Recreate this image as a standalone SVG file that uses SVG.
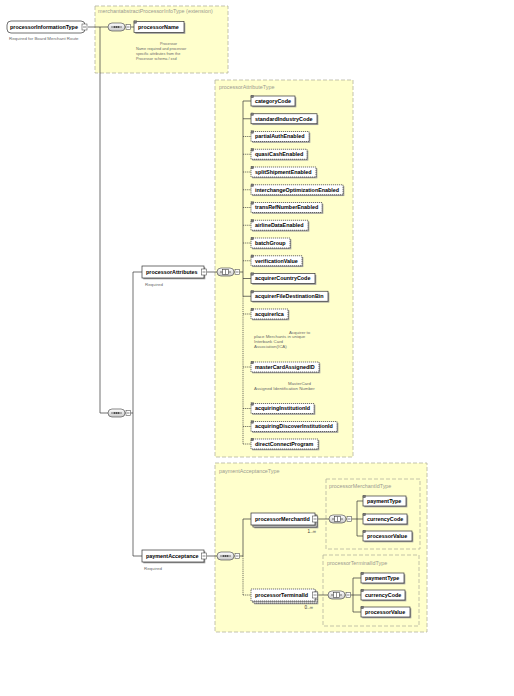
<svg xmlns="http://www.w3.org/2000/svg" xmlns:xlink="http://www.w3.org/1999/xlink" width="514" height="696" viewBox="0 0 514 696">
<style>
.bg{fill:#ffffff}
.grp{fill:#ffffcc;stroke:#b4b4a0;stroke-width:0.8;stroke-dasharray:4 2}
.lab{font-family:"Liberation Sans",Arial,sans-serif;font-size:5.4px;fill:#9a9a90}
.t{font-family:"Liberation Sans",Arial,sans-serif;font-size:5.4px;font-weight:bold;fill:#000}
.ann{font-family:"Liberation Sans",Arial,sans-serif;font-size:4.4px;fill:#6a6a6a}
.ann2{font-family:"Liberation Sans",Arial,sans-serif;font-size:3.8px;fill:#6a6a6a}
.occ{font-family:"Liberation Sans",Arial,sans-serif;font-size:4.6px;fill:#333}
.el{fill:#fff;stroke:#333;stroke-width:0.7}
.opt{fill:#fff;stroke:#333;stroke-width:0.7;stroke-dasharray:1.2 0.8}
.sh{fill:#9c9c9c}
.ic{fill:#777;stroke:#444;stroke-width:0.3}
.ln{stroke:#333;stroke-width:0.7;fill:none}
.dl{stroke:#333;stroke-width:0.7;fill:none;stroke-dasharray:1.2 0.9}
.btn{fill:#fff;stroke:#555;stroke-width:0.6}
.bl{stroke:#333;stroke-width:0.6}
</style>
<defs>
<linearGradient id="cg" x1="0" y1="0" x2="0" y2="1">
<stop offset="0" stop-color="#ffffff"/>
<stop offset="1" stop-color="#c8c8c8"/>
</linearGradient>
<g id="seq">
<line x1="17" y1="0" x2="18" y2="0" class="ln"/>
<rect x="0" y="-4" width="17" height="8" rx="4" fill="url(#cg)" stroke="#555" stroke-width="0.7"/>
<line x1="3" y1="0" x2="14" y2="0" stroke="#222" stroke-width="0.6"/>
<circle cx="6.5" cy="0" r="0.8" fill="#222"/>
<circle cx="8.5" cy="0" r="0.8" fill="#222"/>
<circle cx="10.5" cy="0" r="0.8" fill="#222"/>
<rect x="18" y="-2.5" width="4.5" height="5" class="btn"/>
<line x1="19" y1="0" x2="21.5" y2="0" class="bl"/>
</g>
<g id="all">
<line x1="17" y1="0" x2="18" y2="0" class="ln"/>
<rect x="0" y="-4" width="17" height="8" rx="4" fill="url(#cg)" stroke="#555" stroke-width="0.7"/>
<line x1="3" y1="0" x2="14" y2="0" stroke="#222" stroke-width="0.6"/>
<rect x="5.5" y="-2.3" width="6" height="4.6" fill="#fff" stroke="#222" stroke-width="0.5"/>
<line x1="8.5" y1="-2.3" x2="8.5" y2="2.3" stroke="#222" stroke-width="0.5"/>
<rect x="18" y="-2.5" width="4.5" height="5" class="btn"/>
<line x1="19" y1="0" x2="21.5" y2="0" class="bl"/>
</g>
<g id="btn">
<rect x="0" y="0" width="5" height="6" class="btn"/>
<line x1="1" y1="3" x2="4" y2="3" class="bl"/>
</g>
</defs>
<rect class="bg" x="0" y="0" width="514" height="696"/>

<!-- type containers -->
<g id="type-merchantabstract">
<rect class="grp" x="95" y="6" width="133" height="67"/>
<text class="lab" x="98" y="13">merchantabstractProcessorInfoType (extension)</text>
</g>
<g id="type-processorAttributeType">
<rect class="grp" x="215" y="80" width="138" height="377"/>
<text class="lab" x="219" y="88.5">processorAttributeType</text>
</g>
<g id="type-paymentAcceptanceType">
<rect class="grp" x="215" y="463" width="212" height="169"/>
<text class="lab" x="219" y="472.5">paymentAcceptanceType</text>
</g>
<g id="type-processorMerchantIdType">
<rect class="grp" x="326" y="479" width="94" height="70"/>
<text class="lab" x="329" y="488">processorMerchantIdType</text>
</g>
<g id="type-processorTerminalIdType">
<rect class="grp" x="323" y="555" width="96" height="71"/>
<text class="lab" x="327" y="564.5">processorTerminalIdType</text>
</g>

<!-- connectors -->
<g id="connectors">
<line class="ln" x1="88" y1="27" x2="108" y2="27"/>
<line class="ln" x1="100" y1="27" x2="100" y2="413"/>
<line class="ln" x1="100" y1="413" x2="108" y2="413"/>
<line class="ln" x1="130.5" y1="27" x2="134" y2="27"/>
<line class="ln" x1="130.5" y1="413" x2="133" y2="413"/>
<line class="ln" x1="133" y1="272" x2="133" y2="556"/>
<line class="ln" x1="133" y1="272" x2="142" y2="272"/>
<line class="ln" x1="133" y1="556" x2="142" y2="556"/>
<line class="ln" x1="207" y1="272" x2="217" y2="272"/>
<line class="ln" x1="239.5" y1="272" x2="243" y2="272"/>
<line class="ln" x1="243" y1="101" x2="243" y2="296.25"/>
<line class="dl" x1="243" y1="296.25" x2="243" y2="444"/>
<line class="ln" x1="243" y1="101" x2="251" y2="101"/>
<line class="ln" x1="243" y1="118.75" x2="251" y2="118.75"/>
<line class="dl" x1="243" y1="136.5" x2="251" y2="136.5"/>
<line class="dl" x1="243" y1="154.25" x2="251" y2="154.25"/>
<line class="dl" x1="243" y1="172" x2="251" y2="172"/>
<line class="dl" x1="243" y1="189.75" x2="251" y2="189.75"/>
<line class="dl" x1="243" y1="207.5" x2="251" y2="207.5"/>
<line class="dl" x1="243" y1="225.25" x2="251" y2="225.25"/>
<line class="dl" x1="243" y1="243" x2="251" y2="243"/>
<line class="dl" x1="243" y1="260.75" x2="251" y2="260.75"/>
<line class="ln" x1="243" y1="278.5" x2="251" y2="278.5"/>
<line class="ln" x1="243" y1="296.25" x2="251" y2="296.25"/>
<line class="dl" x1="243" y1="314" x2="251" y2="314"/>
<line class="dl" x1="243" y1="367" x2="251" y2="367"/>
<line class="dl" x1="243" y1="408.5" x2="251" y2="408.5"/>
<line class="dl" x1="243" y1="426.5" x2="251" y2="426.5"/>
<line class="dl" x1="243" y1="444" x2="251" y2="444"/>
<line class="ln" x1="207" y1="556" x2="217" y2="556"/>
<line class="ln" x1="239.5" y1="556" x2="243" y2="556"/>
<line class="ln" x1="243" y1="519" x2="243" y2="556"/>
<line class="dl" x1="243" y1="556" x2="243" y2="595"/>
<line class="ln" x1="243" y1="519" x2="251" y2="519"/>
<line class="dl" x1="243" y1="595" x2="251" y2="595"/>
<line class="ln" x1="318" y1="519" x2="329" y2="519"/>
<line class="ln" x1="351.5" y1="519" x2="357" y2="519"/>
<line class="ln" x1="357" y1="501" x2="357" y2="536"/>
<line class="ln" x1="357" y1="501" x2="363" y2="501"/>
<line class="ln" x1="357" y1="519" x2="363" y2="519"/>
<line class="ln" x1="357" y1="536" x2="363" y2="536"/>
<line class="ln" x1="318" y1="595" x2="328" y2="595"/>
<line class="ln" x1="350.5" y1="595" x2="353" y2="595"/>
<line class="ln" x1="353" y1="578" x2="353" y2="612"/>
<line class="ln" x1="353" y1="578" x2="361" y2="578"/>
<line class="ln" x1="353" y1="595" x2="361" y2="595"/>
<line class="ln" x1="353" y1="612" x2="361" y2="612"/>
</g>

<!-- compositors -->
<g id="comp-seq1"><use xlink:href="#seq" href="#seq" x="108" y="27"/></g>
<g id="comp-seq2"><use xlink:href="#seq" href="#seq" x="108" y="413"/></g>
<g id="comp-all-attr"><use xlink:href="#all" href="#all" x="217" y="272"/></g>
<g id="comp-seq-pay"><use xlink:href="#seq" href="#seq" x="217" y="556"/></g>
<g id="comp-all-merchant"><use xlink:href="#all" href="#all" x="329" y="519"/></g>
<g id="comp-all-terminal"><use xlink:href="#all" href="#all" x="328" y="595"/></g>

<!-- root -->
<g id="n-processorInformationType">
<rect class="el" x="7" y="21" width="78" height="12" rx="4"/>
<text class="t" x="10" y="29">processorInformationType</text>
<use xlink:href="#btn" href="#btn" x="82" y="24"/>
<text class="ann" x="9" y="40">Required for Board Merchant Route</text>
</g>

<g id="n-processorName" transform="translate(134,21.5)">
<rect class="sh" x="1.3" y="1.3" width="50" height="11"/>
<rect class="el" x="0" y="0" width="50" height="11"/>
<rect class="ic" x="0" y="-0.8" width="2.6" height="2.6"/>
<text class="t" x="4" y="7.4">processorName</text>
</g>
<g id="ann-processorName">
<text class="ann2" x="160" y="44.5">Processor</text>
<text class="ann2" x="136" y="50">Name required and processor</text>
<text class="ann2" x="136" y="55">specific attributes from the</text>
<text class="ann2" x="136" y="60">Processor schema / xsd</text>
</g>

<g id="n-processorAttributes">
<rect class="sh" x="143.3" y="267.3" width="62" height="12"/>
<rect class="el" x="142" y="266" width="62" height="12"/>
<text class="t" x="146" y="274">processorAttributes</text>
<use xlink:href="#btn" href="#btn" x="201.5" y="269"/>
<text class="ann" x="145" y="285.5">Required</text>
</g>

<g id="n-categoryCode" transform="translate(251,96)">
<rect class="sh" x="1.3" y="1.3" width="44" height="10"/><rect class="el" width="44" height="10"/><rect class="ic" x="0" y="-0.8" width="2.6" height="2.6"/>
<text class="t" x="4" y="6.9">categoryCode</text></g>
<g id="n-standardIndustryCode" transform="translate(251,113.75)">
<rect class="sh" x="1.3" y="1.3" width="66" height="10"/><rect class="el" width="66" height="10"/><rect class="ic" x="0" y="-0.8" width="2.6" height="2.6"/>
<text class="t" x="4" y="6.9">standardIndustryCode</text></g>
<g id="n-partialAuthEnabled" transform="translate(251,131.5)">
<rect class="sh" x="1.3" y="1.3" width="58" height="10"/><rect class="opt" width="58" height="10"/><rect class="ic" x="0" y="-0.8" width="2.6" height="2.6"/>
<text class="t" x="4" y="6.9">partialAuthEnabled</text></g>
<g id="n-quasiCashEnabled" transform="translate(251,149.25)">
<rect class="sh" x="1.3" y="1.3" width="56" height="10"/><rect class="opt" width="56" height="10"/><rect class="ic" x="0" y="-0.8" width="2.6" height="2.6"/>
<text class="t" x="4" y="6.9">quasiCashEnabled</text></g>
<g id="n-splitShipmentEnabled" transform="translate(251,167)">
<rect class="sh" x="1.3" y="1.3" width="65" height="10"/><rect class="opt" width="65" height="10"/><rect class="ic" x="0" y="-0.8" width="2.6" height="2.6"/>
<text class="t" x="4" y="6.9">splitShipmentEnabled</text></g>
<g id="n-interchangeOptimizationEnabled" transform="translate(251,184.75)">
<rect class="sh" x="1.3" y="1.3" width="92" height="10"/><rect class="opt" width="92" height="10"/><rect class="ic" x="0" y="-0.8" width="2.6" height="2.6"/>
<text class="t" x="4" y="6.9">interchangeOptimizationEnabled</text></g>
<g id="n-transRefNumberEnabled" transform="translate(251,202.5)">
<rect class="sh" x="1.3" y="1.3" width="71" height="10"/><rect class="opt" width="71" height="10"/><rect class="ic" x="0" y="-0.8" width="2.6" height="2.6"/>
<text class="t" x="4" y="6.9">transRefNumberEnabled</text></g>
<g id="n-airlineDataEnabled" transform="translate(251,220.25)">
<rect class="sh" x="1.3" y="1.3" width="57" height="10"/><rect class="opt" width="57" height="10"/><rect class="ic" x="0" y="-0.8" width="2.6" height="2.6"/>
<text class="t" x="4" y="6.9">airlineDataEnabled</text></g>
<g id="n-batchGroup" transform="translate(251,238)">
<rect class="sh" x="1.3" y="1.3" width="39" height="10"/><rect class="opt" width="39" height="10"/><rect class="ic" x="0" y="-0.8" width="2.6" height="2.6"/>
<text class="t" x="4" y="6.9">batchGroup</text></g>
<g id="n-verificationValue" transform="translate(251,255.75)">
<rect class="sh" x="1.3" y="1.3" width="51" height="10"/><rect class="opt" width="51" height="10"/><rect class="ic" x="0" y="-0.8" width="2.6" height="2.6"/>
<text class="t" x="4" y="6.9">verificationValue</text></g>
<g id="n-acquirerCountryCode" transform="translate(251,273.5)">
<rect class="sh" x="1.3" y="1.3" width="64" height="10"/><rect class="el" width="64" height="10"/><rect class="ic" x="0" y="-0.8" width="2.6" height="2.6"/>
<text class="t" x="4" y="6.9">acquirerCountryCode</text></g>
<g id="n-acquirerFileDestinationBin" transform="translate(251,291.25)">
<rect class="sh" x="1.3" y="1.3" width="77" height="10"/><rect class="el" width="77" height="10"/><rect class="ic" x="0" y="-0.8" width="2.6" height="2.6"/>
<text class="t" x="4" y="6.9">acquirerFileDestinationBin</text></g>
<g id="n-acquirerIca" transform="translate(251,309)">
<rect class="sh" x="1.3" y="1.3" width="37" height="10"/><rect class="opt" width="37" height="10"/><rect class="ic" x="0" y="-0.8" width="2.6" height="2.6"/>
<text class="t" x="4" y="6.9">acquirerIca</text></g>
<g id="ann-acquirerIca">
<text class="ann" x="289" y="333.5">Acquirer to</text>
<text class="ann" x="254" y="338.2">place Merchants in unique</text>
<text class="ann" x="254" y="342.9">Interbank Card</text>
<text class="ann" x="254" y="347.6">Association(ICA)</text>
</g>
<g id="n-masterCardAssignedID" transform="translate(251,362)">
<rect class="sh" x="1.3" y="1.3" width="68" height="10"/><rect class="opt" width="68" height="10"/><rect class="ic" x="0" y="-0.8" width="2.6" height="2.6"/>
<text class="t" x="4" y="6.9">masterCardAssignedID</text></g>
<g id="ann-masterCardAssignedID">
<text class="ann" x="288" y="384.5">MasterCard</text>
<text class="ann" x="254" y="389.5">Assigned Identification Number</text>
</g>
<g id="n-acquiringInstitutionId" transform="translate(251,403.5)">
<rect class="sh" x="1.3" y="1.3" width="63" height="10"/><rect class="opt" width="63" height="10"/><rect class="ic" x="0" y="-0.8" width="2.6" height="2.6"/>
<text class="t" x="4" y="6.9">acquiringInstitutionId</text></g>
<g id="n-acquiringDiscoverInstitutionId" transform="translate(251,421.5)">
<rect class="sh" x="1.3" y="1.3" width="86" height="10"/><rect class="opt" width="86" height="10"/><rect class="ic" x="0" y="-0.8" width="2.6" height="2.6"/>
<text class="t" x="4" y="6.9">acquiringDiscoverInstitutionId</text></g>
<g id="n-directConnectProgram" transform="translate(251,439)">
<rect class="sh" x="1.3" y="1.3" width="67" height="10"/><rect class="opt" width="67" height="10"/><rect class="ic" x="0" y="-0.8" width="2.6" height="2.6"/>
<text class="t" x="4" y="6.9">directConnectProgram</text></g>

<g id="n-paymentAcceptance">
<rect class="sh" x="143.3" y="551.3" width="62" height="12"/>
<rect class="el" x="142" y="550" width="62" height="12"/>
<text class="t" x="146" y="558">paymentAcceptance</text>
<use xlink:href="#btn" href="#btn" x="201.5" y="553"/>
<text class="ann" x="144" y="570">Required</text>
</g>

<g id="n-processorMerchantId">
<rect class="sh" x="254.3" y="516.3" width="64" height="12"/>
<rect class="el" x="253" y="515" width="64" height="12"/>
<rect class="sh" x="252.3" y="514.3" width="64" height="12"/>
<rect class="el" x="251" y="513" width="64" height="12"/>
<text class="t" x="255" y="521">processorMerchantId</text>
<use xlink:href="#btn" href="#btn" x="312.5" y="516"/>
<text class="occ" x="316" y="533" text-anchor="end">1..∞</text>
</g>
<g id="n-m-paymentType" transform="translate(363,496)">
<rect class="sh" x="1.3" y="1.3" width="43" height="10"/><rect class="el" width="43" height="10"/><rect class="ic" x="0" y="-0.8" width="2.6" height="2.6"/>
<text class="t" x="4" y="6.9">paymentType</text></g>
<g id="n-m-currencyCode" transform="translate(363,514)">
<rect class="sh" x="1.3" y="1.3" width="44" height="10"/><rect class="el" width="44" height="10"/><rect class="ic" x="0" y="-0.8" width="2.6" height="2.6"/>
<text class="t" x="4" y="6.9">currencyCode</text></g>
<g id="n-m-processorValue" transform="translate(363,531)">
<rect class="sh" x="1.3" y="1.3" width="49" height="10"/><rect class="el" width="49" height="10"/><rect class="ic" x="0" y="-0.8" width="2.6" height="2.6"/>
<text class="t" x="4" y="6.9">processorValue</text></g>

<g id="n-processorTerminalId">
<rect class="sh" x="254.3" y="592.3" width="64" height="12"/>
<rect class="opt" x="253" y="591" width="64" height="12"/>
<rect class="sh" x="252.3" y="590.3" width="64" height="12"/>
<rect class="opt" x="251" y="589" width="64" height="12"/>
<text class="t" x="255" y="597">processorTerminalId</text>
<use xlink:href="#btn" href="#btn" x="312.5" y="592"/>
<text class="occ" x="313" y="609" text-anchor="end">0..∞</text>
</g>
<g id="n-t-paymentType" transform="translate(361,573)">
<rect class="sh" x="1.3" y="1.3" width="43" height="10"/><rect class="el" width="43" height="10"/><rect class="ic" x="0" y="-0.8" width="2.6" height="2.6"/>
<text class="t" x="4" y="6.9">paymentType</text></g>
<g id="n-t-currencyCode" transform="translate(361,590)">
<rect class="sh" x="1.3" y="1.3" width="44" height="10"/><rect class="el" width="44" height="10"/><rect class="ic" x="0" y="-0.8" width="2.6" height="2.6"/>
<text class="t" x="4" y="6.9">currencyCode</text></g>
<g id="n-t-processorValue" transform="translate(361,607)">
<rect class="sh" x="1.3" y="1.3" width="49" height="10"/><rect class="el" width="49" height="10"/><rect class="ic" x="0" y="-0.8" width="2.6" height="2.6"/>
<text class="t" x="4" y="6.9">processorValue</text></g>
</svg>
